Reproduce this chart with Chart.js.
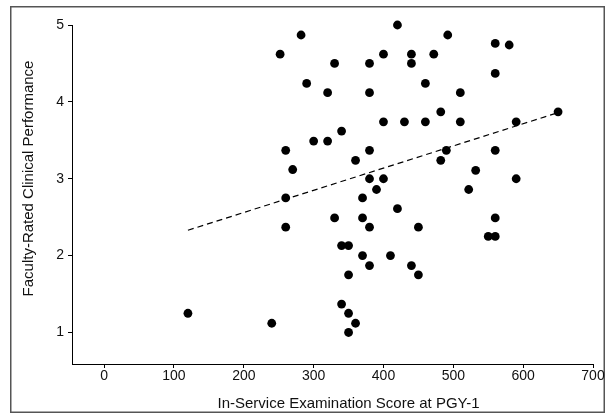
<!DOCTYPE html>
<html>
<head>
<meta charset="utf-8">
<script src="https://cdn.jsdelivr.net/npm/chart.js@4/dist/chart.umd.min.js"></script>
<style>
html,body{margin:0;padding:0;background:#fff;}
#wrap{width:615px;height:419px;position:relative;}
</style>
</head>
<body>
<div id="wrap"><canvas id="c" width="615" height="419"></canvas></div>
<script>
// In-Service Examination Score at PGY-1 (x) vs Faculty-Rated Clinical Performance (y)
const xScores = [120,240,260,260,252,282,290,300,260,270,
  420,492,560,580,330,380,400,440,440,472,
  560,320,380,460,510,400,430,460,482,510,
  650,590,320,340,360,380,490,482,560,532,
  590,522,380,400,390,370,330,370,380,340,
  350,370,410,380,350,340,350,360,350,420,
  450,560,550,560,440,450];
const yRatings = [1.25,1.12,2.37,2.75,4.62,4.87,4.24,3.49,3.37,3.12,
  5.00,4.87,4.76,4.74,4.50,4.50,4.62,4.62,4.50,4.62,
  4.37,4.12,4.12,4.24,4.12,3.74,3.74,3.74,3.87,3.74,
  3.87,3.74,3.49,3.62,3.24,3.37,3.37,3.24,3.37,3.11,
  3.00,2.86,3.00,3.00,2.86,2.75,2.49,2.49,2.37,2.13,
  2.13,2.00,2.00,1.87,1.75,1.37,1.25,1.12,1.00,2.61,
  2.37,2.49,2.25,2.25,1.87,1.75];
const trendX = [120, 650];
const trendY = [2.33, 3.86];
const xTicks = [0,100,200,300,400,500,600,700];
const yTicks = [1,2,3,4,5];
const xTitle = 'In-Service Examination Score at PGY-1';
const yTitle = 'Faculty-Rated Clinical Performance';

const scatterData = xScores.map((x,i)=>({x:x, y:yRatings[i]}));
const trendData = trendX.map((x,i)=>({x:x, y:trendY[i]}));

const FONT = "'Liberation Sans', Arial, sans-serif";

const framePlugin = {
  id: 'frame',
  beforeDraw(chart){
    const ctx = chart.ctx;
    ctx.save();
    ctx.fillStyle = '#fff';
    ctx.fillRect(0,0,chart.width,chart.height);
    ctx.strokeStyle = '#555';
    ctx.lineWidth = 1.5;
    ctx.strokeRect(10.75, 6.75, 593.5, 405.5);
    ctx.restore();
  },
  afterDraw(chart){
    const ctx = chart.ctx;
    ctx.save();
    ctx.fillStyle = '#111';
    ctx.font = '15px ' + FONT;
    ctx.textAlign = 'center';
    ctx.textBaseline = 'alphabetic';
    ctx.fillText(xTitle, 348.5, 408);
    ctx.translate(33, 178.5);
    ctx.rotate(-Math.PI/2);
    ctx.fillText(yTitle, 0, 0);
    ctx.restore();
  }
};

new Chart(document.getElementById('c'), {
  type: 'scatter',
  data: {
    datasets: [
      {
        type: 'line',
        data: trendData,
        borderColor: '#000',
        borderWidth: 1.2,
        borderDash: [6,4],
        pointRadius: 0,
        fill: false,
        clip: false,
        order: 1
      },
      {
        data: scatterData,
        backgroundColor: '#000',
        borderColor: '#000',
        pointRadius: 4.4,
        pointHoverRadius: 4.4,
        borderWidth: 0,
        clip: false,
        order: 0
      }
    ]
  },
  options: {
    responsive: false,
    animation: false,
    devicePixelRatio: 1,
    layout: { padding: { top: 25, right: 22, left: 0, bottom: 0 } },
    plugins: { legend: { display: false }, tooltip: { enabled: false }, title: { display: false } },
    scales: {
      x: {
        type: 'linear',
        min: -46, max: 700,
        afterFit(scale){ scale.height = 55; },
        afterBuildTicks(scale){ scale.ticks = xTicks.map(v=>({value:v})); },
        border: { display: true, color: '#000', width: 1 },
        grid: { display: true, drawOnChartArea: false, drawTicks: true, tickLength: 4, color: '#000' },
        ticks: { color: '#111', font: { family: FONT, size: 14 }, padding: 0, maxRotation: 0 }
      },
      y: {
        type: 'linear',
        min: 0.59, max: 5,
        afterFit(scale){ scale.width = 72; },
        afterBuildTicks(scale){ scale.ticks = yTicks.map(v=>({value:v})); },
        border: { display: true, color: '#000', width: 1 },
        grid: { display: true, drawOnChartArea: false, drawTicks: true, tickLength: 4, color: '#000' },
        ticks: { color: '#111', font: { family: FONT, size: 14 }, padding: 4 }
      }
    }
  },
  plugins: [framePlugin]
});
</script>
</body>
</html>
